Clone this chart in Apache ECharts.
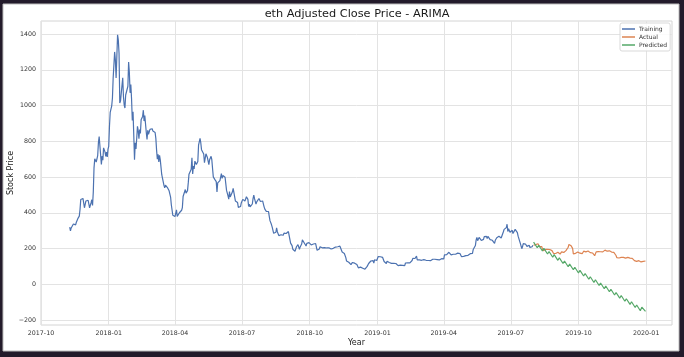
<!DOCTYPE html>
<html><head><meta charset="utf-8">
<script src="https://cdn.jsdelivr.net/npm/echarts@6/dist/echarts.min.js"></script>
<style>html,body{margin:0;padding:0;background:#231b2b;}#c{width:684px;height:357px;}</style>
</head><body><div id="c"></div>
<script>
// ---- data (daily adjusted close, USD) ----
const train2017Start = '2017-11-09';
const train2017 = [320,299,315,307,316,337,333,330,332,347,354,367,360,381,418,474,466,471,480,472,428,447,
  466,463,465,470,463,428,434,456,473,441,515,651,702,696,684,693,720,793,827,820,821,670,718,694,763,753,739,716,740,712,756];
const train2018aStart = '2018-01-01';
const train2018a = [772,884,962,980,997,1041,1153,1148,1300,1256,1154,1273,1396,1366,1292,1014,1026,1037,1036,1155,1049,1003,986,1059,1056,1054,1108,1243,1185,1071,1118,
  1037,916,965,834,697,791,757,816,884,861,815,866,844,921,928,939,974,913,944,895,849,810,862,839,842,867,878,856,
  870,857,856,865,849,815,749,700,727,684,721,696,690,613,611,605,553,539,555,559,560,539,541,523,520,488,445,449,386,395,397,
  379,386,416,380,383,384,400,401,399,414,429,491,495,502,530,510,502,524,567,616,605,621,643,708,617,662,645,689,687,670,
  673,687,779,786,816,792,753,753,752,729,680,684,730,730,709,708,669,697,697,716,697,648,601,603,587,594,574,517,567,567,578,
  580,591,619,592,608,607,604,599,596,525,531,495,476,519,488,497,499,517,537,537,526,466,473,456,457,430,441,420,435,455];
const train2018bStart = '2018-07-01';
const train2018b = [453,475,464,467,466,474,490,487,475,435,448,433,432,436,449,479,499,479,471,448,461,458,458,480,471,463,470,467,466,458,433,
  420,410,408,409,407,407,380,356,365,334,320,318,285,279,281,291,316,294,300,272,282,275,277,282,279,274,286,295,285,284,283,
  295,295,289,285,230,229,216,196,197,197,185,183,210,212,222,221,196,209,210,225,248,241,244,228,218,214,229,221,232,233,
  230,227,220,222,227,225,227,229,228,225,190,195,198,197,210,210,208,204,203,204,205,204,203,203,203,203,204,204,197,197,197,
  200,201,199,212,208,219,217,210,210,212,213,210,206,180,175,174,172,176,149,130,137,125,123,112,115,110,113,122,117,114,
  118,116,108,110,103,92,92,93,96,90,89,90,86,84,84,85,95,100,100,116,110,119,130,140,130,132,118,137,138,141,133];
const train2019Start = '2019-01-01';
const train2019 = [140,155,147,153,154,156,150,150,152,127,127,124,116,129,122,123,122,119,123,117,116,119,117,118,117,116,113,105,104,108,106,
  107,110,106,106,105,104,104,119,119,124,120,122,121,120,121,123,133,145,143,148,144,147,158,136,139,137,136,135,
  136,134,132,126,138,138,138,134,137,135,133,134,133,132,137,142,140,138,139,140,136,137,138,137,135,136,141,140,143,142,141,
  142,164,161,158,166,168,175,179,176,174,164,164,164,168,162,167,168,173,174,174,170,171,172,165,155,154,156,156,155,161,
  160,162,167,162,163,170,171,170,170,173,194,188,198,217,248,262,244,235,262,251,255,245,244,248,251,266,272,271,268,255,268,
  265,269,250,243,247,246,245,245,229,246,244,260,255,261,268,264,269,259,269,270,294,307,307,311,317,336,295,311,319,291,
  293,292,302,284,287,289,307,313,307,289,269,275,268,229,230,199,211,227,220,227,225,217,212,217,219,218,206,211,212,210,218];
const actualStart = '2019-08-01';
const actualVals = [218,217,222,222,232,225,227,220,211,206,215,211,209,187,188,185,195,195,203,196,186,190,194,191,187,188,186,173,169,170,172,
  172,178,179,174,173,169,177,181,180,180,178,181,180,188,189,197,207,223,221,218,215,211,201,170,169,168,173,174,169,181,
  176,180,174,176,176,171,180,185,193,191,181,181,181,186,180,175,177,173,172,175,173,170,160,161,181,179,184,183,190,183,182,
  183,183,181,186,189,191,186,184,185,189,185,187,186,184,180,182,184,178,175,175,161,149,152,141,147,148,152,150,155,151,
  150,149,147,146,148,148,150,151,148,146,144,145,145,142,142,132,121,133,128,128,127,132,128,127,125,125,126,128,134,131,130];
const predDates = ['2019-08-01','2019-08-06','2019-08-08','2019-08-13','2019-08-15','2019-08-20','2019-08-22','2019-08-27',
  '2019-08-29','2019-09-03','2019-09-05','2019-09-10','2019-09-12','2019-09-17','2019-09-19','2019-09-24','2019-09-26','2019-10-01',
  '2019-10-03','2019-10-08','2019-10-10','2019-10-15','2019-10-17','2019-10-22','2019-10-24','2019-10-29','2019-10-31','2019-11-05',
  '2019-11-07','2019-11-12','2019-11-14','2019-11-19','2019-11-21','2019-11-26','2019-11-28','2019-12-03','2019-12-05','2019-12-10',
  '2019-12-12','2019-12-17','2019-12-19','2019-12-24','2019-12-26','2019-12-31'];
const predVals = [236,204,218,186,201,169,183,151,166,134,148,116,130,98,113,81,95,63,78,46,60,28,42,10,25,-7,7,-25,
  -10,-42,-28,-60,-46,-78,-63,-95,-81,-113,-98,-130,-116,-148,-128,-152];
const xTickLabels = ['2017-10','2018-01','2018-04','2018-07','2018-10','2019-01','2019-04','2019-07','2019-10','2020-01'];
const yTicks = [-200,0,200,400,600,800,1000,1200,1400];
const seriesNames = ['Training','Actual','Predicted'];

// ---- helpers ----
function parseDay(s){ const p=s.split('-').map(Number); return Date.UTC(p[0], p[1]-1, p[2]||1); }
const DAY = 86400000;
function daily(start, vals){ const t0=parseDay(start); return vals.map((v,i)=>[t0 + i*DAY, v]); }
const trainData = [].concat(daily(train2017Start,train2017), daily(train2018aStart,train2018a), daily(train2018bStart,train2018b), daily(train2019Start,train2019));
const actualData = daily(actualStart, actualVals);
const predData = predDates.map((d,i)=>[parseDay(d), predVals[i]]);
const xTickVals = xTickLabels.map(parseDay);
const pad2 = n => (n<10?'0':'')+n;

const FONT = 'DejaVu Sans';
const chart = echarts.init(document.getElementById('c'), null, {renderer:'canvas', width:684, height:357});
chart.setOption({
  animation:false,
  backgroundColor:'#231b2b',
  graphic:[{type:'rect', z:-100, silent:true, shape:{x:3,y:4,width:676,height:347}, style:{fill:'#ffffff', stroke:'#bdbdbd', lineWidth:1}}],
  title:{text:'eth Adjusted Close Price - ARIMA', left:357, top:9, textAlign:'center', padding:0,
    textStyle:{fontFamily:FONT, fontSize:11.3, fontWeight:'normal', color:'#1a1a1a'}},
  legend:{data:seriesNames, orient:'vertical', left:620, top:23, padding:[3,3,3,2], itemGap:2, itemWidth:13, itemHeight:1.5, icon:'rect',
    backgroundColor:'rgba(255,255,255,0.85)', borderColor:'#d9d9d9', borderWidth:1, borderRadius:2,
    textStyle:{fontFamily:FONT, fontSize:6, color:'#333', padding:[0,0,0,-1]}},
  grid:{left:41, top:21, width:631, height:304, show:true, borderColor:'#d4d4d4', borderWidth:1, backgroundColor:'transparent',
    containLabel:false, outerBoundsMode:'none'},
  xAxis:{type:'value', min:parseDay('2017-10-01'), max:parseDay('2020-02-05'),
    name:'Year', nameLocation:'middle', nameGap:14, nameMoveOverlap:false, nameTextStyle:{fontFamily:FONT, fontSize:8, color:'#1a1a1a'},
    axisLine:{show:false}, axisTick:{show:false, customValues:xTickVals},
    axisLabel:{customValues:xTickVals, fontFamily:FONT, fontSize:6.3, color:'#333', margin:5, hideOverlap:false, showMinLabel:true,
      formatter:(v)=>{const d=new Date(v); return d.getUTCFullYear()+'-'+pad2(d.getUTCMonth()+1);}},
    splitLine:{show:true, lineStyle:{color:'#e3e3e3', width:1}}},
  yAxis:{type:'value', min:-228, max:1473,
    name:'Stock Price', nameLocation:'middle', nameGap:26, nameMoveOverlap:false, nameTextStyle:{fontFamily:FONT, fontSize:8, color:'#1a1a1a'},
    axisLine:{show:false}, axisTick:{show:false, customValues:yTicks},
    axisLabel:{customValues:yTicks, fontFamily:FONT, fontSize:6.3, color:'#333', margin:5,
      formatter:(v)=> v<0 ? '\u2212'+Math.abs(v) : String(v)},
    splitLine:{show:true, lineStyle:{color:'#e3e3e3', width:1}}},
  series:[
    {name:seriesNames[0], type:'line', data:trainData, showSymbol:false, lineStyle:{color:'#4c72b0', width:1.2}, itemStyle:{color:'#4c72b0'}},
    {name:seriesNames[1], type:'line', data:actualData, showSymbol:false, lineStyle:{color:'#dd8452', width:1.2}, itemStyle:{color:'#dd8452'}},
    {name:seriesNames[2], type:'line', data:predData, showSymbol:false, lineStyle:{color:'#55a868', width:1.2}, itemStyle:{color:'#55a868'}}
  ]
});
</script></body></html>
